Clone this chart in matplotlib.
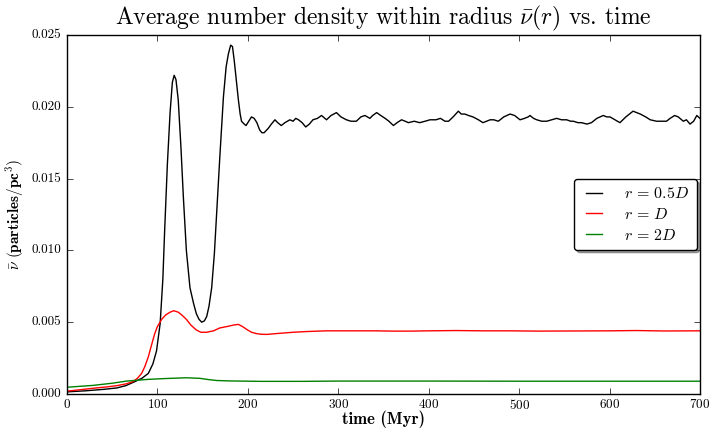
import os
import numpy as np
import matplotlib
matplotlib.use('Agg')
import matplotlib.pyplot as plt
from matplotlib.font_manager import FontProperties

plt.style.use('classic')
plt.rcParams['font.family'] = 'serif'
plt.rcParams['font.serif'] = ['cmr10']
plt.rcParams['mathtext.fontset'] = 'cm'
plt.rcParams['axes.formatter.use_mathtext'] = True
plt.rcParams['figure.facecolor'] = 'white'
plt.rcParams['savefig.facecolor'] = 'white'

# r = 0.5D
t_half = [0, 20, 40, 55, 65, 75, 83, 90, 95, 99, 103, 106, 108, 111, 114, 116.5, 118.5, 120.5, 123, 126,
          128.7, 132, 136, 140, 143, 146, 149, 152, 154.5, 157, 160, 163, 165.5, 169, 173, 176, 178.5, 181,
          183, 185, 187, 189.5, 191.5, 193, 196, 198, 201, 204, 207, 210, 213, 215.5, 218, 222.5, 226, 230,
          233, 237, 241, 246.5, 250, 253, 256, 260, 264, 268, 272, 277, 281.5, 287, 292, 298, 303, 309, 314,
          320, 325, 329.5, 335, 338, 342.5, 347, 351.8, 356, 361, 365, 370, 374, 377.5, 384, 390, 396, 401.5,
          408, 413, 418, 422, 427, 432.8, 436, 440, 444, 449, 455, 460, 464, 468, 472, 477, 483, 490, 495,
          501, 506, 510, 512, 516, 519.5, 525, 530.5, 536, 541.5, 547, 552.6, 557, 560, 565, 569, 575, 580,
          586, 593, 597, 600.5, 606, 611.5, 618, 626, 630, 634, 640, 645, 652, 658, 663, 667, 672, 676,
          681.6, 685, 689, 693, 696.5, 700]
nu_half = [0.00015, 0.00022, 0.00032, 0.00042, 0.00058, 0.00086, 0.0011, 0.00144, 0.0021, 0.0030, 0.0049,
           0.0080, 0.0114, 0.0160, 0.0196, 0.0217, 0.0222, 0.0219, 0.0205, 0.0172, 0.0137, 0.0100, 0.0074,
           0.0063, 0.0056, 0.0052, 0.0050, 0.0051, 0.0054, 0.0061, 0.0074, 0.0098, 0.0126, 0.0165, 0.0207,
           0.0228, 0.0237, 0.0243, 0.0242, 0.0232, 0.0220, 0.0205, 0.0195, 0.0190, 0.0188, 0.0187, 0.0190,
           0.0193, 0.0192, 0.0189, 0.0184, 0.0182, 0.0182, 0.0185, 0.0188, 0.0191, 0.0189, 0.0187, 0.0189,
           0.0191, 0.0190, 0.0192, 0.0191, 0.0189, 0.0186, 0.0188, 0.0191, 0.0192, 0.0194, 0.0191, 0.0194,
           0.0196, 0.0193, 0.0191, 0.0190, 0.0190, 0.0193, 0.0194, 0.0192, 0.0194, 0.0196, 0.0194, 0.0192,
           0.0190, 0.0187, 0.0189, 0.0191, 0.0190, 0.0189, 0.0190, 0.0189, 0.0190, 0.0191, 0.0191, 0.0192,
           0.0190, 0.0190, 0.0193, 0.0197, 0.0195, 0.0195, 0.0194, 0.0193, 0.0191, 0.0189, 0.0190, 0.0191,
           0.0191, 0.0190, 0.0193, 0.0195, 0.0194, 0.0191, 0.0192, 0.0193, 0.0194, 0.0192, 0.0191, 0.0190,
           0.0190, 0.0191, 0.0192, 0.0191, 0.0191, 0.0190, 0.0190, 0.0189, 0.0189, 0.0188, 0.0189, 0.0192,
           0.0194, 0.0193, 0.0193, 0.0191, 0.0189, 0.0193, 0.0197, 0.0196, 0.0195, 0.0193, 0.0191, 0.0190,
           0.0190, 0.0190, 0.0192, 0.0194, 0.0193, 0.0190, 0.0191, 0.0188, 0.0190, 0.0194, 0.0192]

# r = D
t_one = [0, 15, 29, 45, 55, 65, 73, 78, 82.6, 86, 90, 93, 97, 100, 104.7, 109, 114, 118, 123, 127, 132, 137,
         143, 148, 154.5, 162, 169, 177, 184, 189.5, 194, 198.7, 204, 210, 215, 221, 230, 240, 250, 265, 287,
         310, 340, 360, 380, 400, 430, 460, 490, 520, 560, 600, 630, 660, 700]
nu_one = [0.00020, 0.00030, 0.00040, 0.00050, 0.00058, 0.00070, 0.00086, 0.0011, 0.00144, 0.0019, 0.0026,
          0.0033, 0.0042, 0.0047, 0.0052, 0.0055, 0.0057, 0.0058, 0.0057, 0.0055, 0.0052, 0.0048, 0.00446,
          0.0043, 0.0043, 0.0044, 0.0046, 0.0047, 0.0048, 0.00485, 0.0047, 0.0045, 0.0043, 0.0042, 0.00416,
          0.00415, 0.0042, 0.00425, 0.0043, 0.00435, 0.0044, 0.0044, 0.0044, 0.00438, 0.00438, 0.0044,
          0.00442, 0.0044, 0.0044, 0.00438, 0.00439, 0.0044, 0.00442, 0.00439, 0.0044]

# r = 2D
t_two = [0, 29, 50, 66, 80, 90, 110, 132, 147, 157, 165.5, 180, 213, 260, 300, 400, 500, 600, 700]
nu_two = [0.00047, 0.00060, 0.00075, 0.00090, 0.00097, 0.00102, 0.00108, 0.00113, 0.00109, 0.00100,
          0.00094, 0.00091, 0.00088, 0.00088, 0.00090, 0.00090, 0.00089, 0.00089, 0.00089]

# bold computer modern shipped with matplotlib
bold_cm = FontProperties(fname=os.path.join(matplotlib.get_data_path(), 'fonts', 'ttf', 'cmb10.ttf'), size=12)

fig = plt.figure(figsize=(7.12, 4.29), dpi=100)
ax = fig.add_axes([0.0941, 0.0816, 0.889, 0.8366])

ax.plot(t_half, nu_half, color='k', lw=1.0, label=r'$r\,=\,0.5D$')
ax.plot(t_one, nu_one, color='r', lw=1.0, label=r'$r\,=\,D$')
ax.plot(t_two, nu_two, color='g', lw=1.0, label=r'$r\,=\,2D$')

ax.set_xlim(0, 700)
ax.set_ylim(0, 0.025)
ax.set_xticks(np.arange(0, 701, 100))
ax.set_yticks(np.arange(0, 0.0251, 0.005))
ax.set_yticklabels(['%.3f' % v for v in np.arange(0, 0.0251, 0.005)])
ax.tick_params(labelsize=9.5)
ax.tick_params(axis='x', pad=3)

ax.set_title(r'Average number density within radius $\bar{\nu}(r)$ vs. time', fontsize=17, pad=8)
ax.set_xlabel('time (Myr)', fontproperties=bold_cm)
ax.xaxis.set_label_coords(0.5, -0.045)
ax.set_ylabel(r'$\bar{\nu}\ \mathbf{(particles/pc^3)}$', fontsize=11, labelpad=4)

leg = ax.legend(loc='center right', fancybox=True, shadow=True, fontsize=11.5,
                handlelength=1.6, handletextpad=1.1, borderpad=0.45, labelspacing=0.35,
                borderaxespad=0.2)

fig.savefig('out.png', dpi=100)
